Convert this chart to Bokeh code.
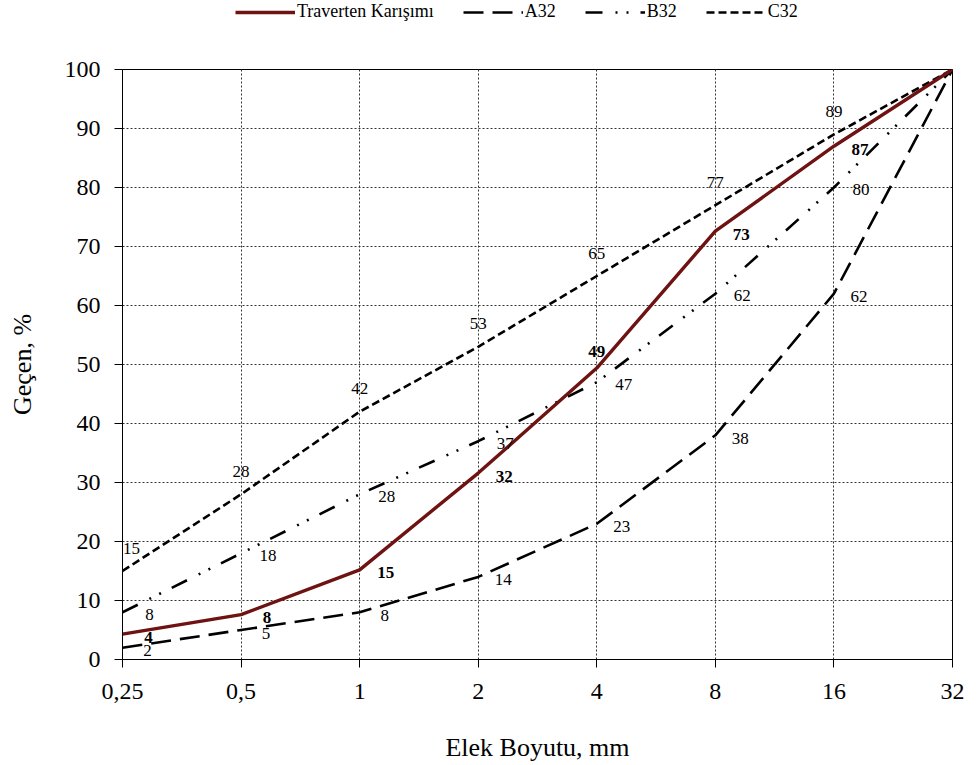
from bokeh.plotting import figure
from bokeh.layouts import column
from bokeh.models import Range1d, FixedTicker, Legend, LegendItem
from bokeh.core.properties import value
from bokeh.embed import file_html
from bokeh.resources import INLINE

# ---- data ----
sieve_labels = ["0,25", "0,5", "1", "2", "4", "8", "16", "32"]
traverten = [4.3, 7.6, 15.2, 31.6, 49.4, 72.6, 87.0, 100]
a32 = [2, 5, 8, 14, 23, 38, 62, 100]
b32 = [8, 18, 28, 37, 47, 62, 80, 100]
c32 = [15, 28, 42, 53, 65, 77, 89, 100]
y_ticks = [0, 10, 20, 30, 40, 50, 60, 70, 80, 90, 100]
series_names = ["Traverten Karışımı", "A32", "B32", "C32"]

xs = list(range(len(sieve_labels)))
series = {"Traverten Karışımı": traverten, "A32": a32, "B32": b32, "C32": c32}
FONT = "Times New Roman"

styles = {
    "C32": dict(line_color="black", line_width=2.6, line_dash="8 4"),
    "B32": dict(line_color="black", line_width=2.6, line_dash="17 13 2 9 2 12"),
    "A32": dict(line_color="black", line_width=2.6, line_dash="20 9"),
    "Traverten Karışımı": dict(line_color="#6E1212", line_width=3.4),
}

W = 978
LEG_H = 28
FRAME_L = 122
p = figure(width=W, height=764 - LEG_H, output_backend="svg", toolbar_location=None,
           x_range=Range1d(0, len(xs) - 1), y_range=Range1d(0, 100),
           min_border_left=FRAME_L, min_border_right=W - 952, min_border_top=69 - LEG_H,
           min_border_bottom=105)
p.outline_line_color = "black"
p.outline_line_width = 1
p.background_fill_color = "white"

# axes
p.xaxis.ticker = FixedTicker(ticks=xs)
p.xaxis.major_label_overrides = {i: s for i, s in zip(xs, sieve_labels)}
p.yaxis.ticker = FixedTicker(ticks=y_ticks)
for ax in (p.xaxis, p.yaxis):
    ax.axis_line_color = "black"
    ax.major_tick_line_color = "black"
    ax.minor_tick_line_color = None
    ax.major_tick_in = 0
    ax.major_tick_out = 8
    ax.major_label_text_font = FONT
    ax.major_label_text_font_size = "24px"
    ax.major_label_text_color = "black"
    ax.axis_label_text_font = FONT
    ax.axis_label_text_font_size = "26px"
    ax.axis_label_text_font_style = "normal"
    ax.axis_label_text_color = "black"
p.xaxis.axis_label = "Elek Boyutu, mm"
p.yaxis.axis_label = "Geçen, %"
p.xaxis.major_label_standoff = 16
p.yaxis.major_label_standoff = 14
p.xaxis.axis_label_standoff = 31
p.yaxis.axis_label_standoff = 25

for g in (p.xgrid, p.ygrid):
    g.grid_line_color = "#333333"
    g.grid_line_dash = "2 2"
    g.grid_line_width = 1
p.xgrid.ticker = FixedTicker(ticks=xs)
p.ygrid.ticker = FixedTicker(ticks=y_ticks)

# lines
for name in ["C32", "B32", "A32", "Traverten Karışımı"]:
    p.line(xs, series[name], **styles[name])

lbl = dict(text_font=value(FONT), text_font_size=value("17px"), text_color="black",
           text_align="center", text_baseline="middle")
last = len(xs) - 1


def labels(idx, ys, **kw):
    p.text([xs[i] for i in idx], [ys[i] for i in idx],
           text=[str(round(ys[i])) for i in idx], **kw, **lbl)


inner = list(range(0, last))
labels(inner, a32, x_offset=25, y_offset=3)
labels(inner, b32, x_offset=27, y_offset=2)
labels([0], c32, x_offset=9, y_offset=-23)
labels(list(range(1, last)), c32, x_offset=0, y_offset=-23)
labels([last], c32, x_offset=8, y_offset=-20)
labels([i for i in inner if i != 4], traverten, x_offset=26, y_offset=3, text_font_style="bold")
labels([4], traverten, x_offset=0, y_offset=-17, text_font_style="bold")

# legend strip above the chart (its frame is aligned with the chart's frame)
lf = figure(width=W, height=LEG_H, output_backend="svg", toolbar_location=None,
            x_range=Range1d(0, 1), y_range=Range1d(0, 1),
            min_border_left=0, min_border_right=0, min_border_top=0, min_border_bottom=0)
lf.axis.visible = False
lf.grid.visible = False
lf.outline_line_color = None
items = []
for name in series_names:
    # same series drawn out of this strip's view, only to feed the legend
    r = lf.line(xs, series[name], **styles[name])
    items.append(LegendItem(label=name, renderers=[r]))
legend = Legend(items=items, orientation="horizontal", location=(235 - FRAME_L, 6))
legend.label_text_font = FONT
legend.label_text_font_size = "18px"
legend.label_text_color = "black"
legend.glyph_width = 60
legend.glyph_height = 18
legend.label_height = 18
legend.label_standoff = 2
legend.spacing = 29
legend.padding = 0
legend.margin = 0
legend.border_line_color = None
legend.background_fill_alpha = 0
lf.add_layout(legend, "center")

layout = column(lf, p, spacing=0)
open("out.html", "w").write(file_html(layout, INLINE))
